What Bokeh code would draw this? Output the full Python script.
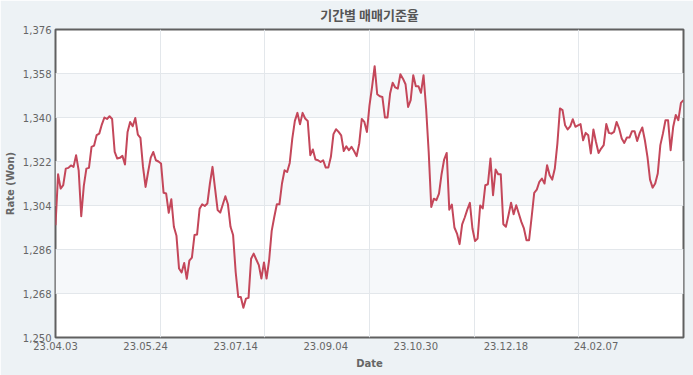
from bokeh.plotting import figure
from bokeh.models import Range1d, FixedTicker, NumeralTickFormatter, Grid
from bokeh.embed import file_html
from bokeh.resources import INLINE

rate = [
    1295.9, 1316.8, 1310.9, 1312.3, 1319.1, 1319.4, 1320.4, 1319.8, 1324.6, 1318.4,
    1299.6, 1312.0, 1319.1, 1319.4, 1328.0, 1328.5, 1332.8, 1333.4, 1337.1, 1340.0,
    1339.4, 1340.5, 1339.4, 1325.9, 1323.2, 1323.5, 1324.3, 1320.8, 1334.1, 1338.2,
    1336.4, 1339.8, 1333.0, 1331.7, 1319.8, 1311.6, 1317.8, 1323.6, 1325.9, 1322.5,
    1322.0, 1321.2, 1309.2, 1308.9, 1301.0, 1306.6, 1295.3, 1291.6, 1278.2, 1276.6,
    1280.5, 1274.0, 1281.4, 1282.7, 1291.9, 1292.1, 1302.7, 1304.5, 1303.8, 1304.8,
    1313.0, 1319.8, 1310.9, 1302.1, 1301.1, 1304.4, 1307.8, 1304.5, 1295.3, 1291.9,
    1276.8, 1266.6, 1266.6, 1262.2, 1265.9, 1266.2, 1282.2, 1284.3, 1281.9, 1279.6,
    1274.1, 1280.7, 1274.1, 1281.6, 1293.6, 1299.3, 1304.5, 1304.5, 1313.0, 1318.4,
    1317.7, 1321.4, 1331.4, 1338.6, 1341.9, 1337.2, 1341.9, 1339.6, 1338.6, 1324.6,
    1326.9, 1322.8, 1322.5, 1321.8, 1322.5, 1319.5, 1319.5, 1323.9, 1333.2, 1335.2,
    1334.1, 1332.7, 1326.3, 1328.2, 1326.6, 1328.0, 1326.3, 1324.2, 1329.3, 1339.4,
    1338.2, 1334.1, 1345.0, 1352.5, 1361.0, 1349.5, 1348.7, 1348.4, 1340.0, 1340.0,
    1349.8, 1354.2, 1352.3, 1351.8, 1357.7, 1355.9, 1353.6, 1344.3, 1347.1, 1357.3,
    1352.8, 1352.8, 1350.1, 1357.3, 1343.7, 1325.9, 1303.4, 1306.8, 1306.2, 1308.9,
    1316.8, 1322.8, 1325.5, 1302.3, 1304.4, 1295.0, 1292.5, 1288.2, 1296.3, 1299.1,
    1302.3, 1305.1, 1294.6, 1289.5, 1290.5, 1304.0, 1302.8, 1312.3, 1312.7, 1323.2,
    1308.2, 1318.7, 1316.8, 1316.8, 1296.3, 1295.3, 1300.0, 1305.1, 1300.4, 1304.1,
    1300.7, 1297.3, 1294.6, 1289.8, 1289.8, 1299.3, 1309.2, 1310.5, 1313.7, 1315.0,
    1313.0, 1320.5, 1316.4, 1314.6, 1319.1, 1329.3, 1343.7, 1343.0, 1336.8, 1335.1,
    1336.4, 1339.3, 1336.2, 1336.8, 1337.3, 1330.7, 1333.7, 1332.7, 1325.3, 1335.1,
    1330.0, 1325.5, 1327.3, 1328.7, 1337.3, 1333.7, 1333.4, 1334.1, 1338.2, 1335.5,
    1331.4, 1329.6, 1331.8, 1331.8, 1334.4, 1334.4, 1330.4, 1333.7, 1335.9, 1330.7,
    1323.9, 1314.6, 1311.3, 1313.0, 1317.1, 1328.7, 1333.4, 1338.9, 1338.9, 1326.6,
    1336.2, 1341.0, 1338.9, 1346.0, 1347.1,
]

tick_labels = ["23.04.03", "23.05.24", "23.07.14", "23.09.04", "23.10.30", "23.12.18", "24.02.07"]
label_step = 35
y_ticks = [1250, 1268, 1286, 1304, 1322, 1340, 1358, 1376]

title_text = "기간별 매매기준율"
x_title = "Date"
y_title = "Rate (Won)"

idx = list(range(len(rate)))
n_last = len(rate) - 1

p = figure(width=693, height=375, output_backend="svg", toolbar_location=None,
           x_range=Range1d(0, n_last), y_range=Range1d(y_ticks[0], y_ticks[-1]),
           min_border_left=55, min_border_right=10, min_border_top=29, min_border_bottom=38)

p.background_fill_color = "#ffffff"
p.border_fill_color = "#edf2f5"
p.outline_line_color = "#606060"
p.outline_line_width = 2

p.title.text = title_text
p.title.align = "center"
p.title.vertical_align = "top"
p.title.text_font = "Noto Sans CJK KR"
p.title.text_font_size = "13px"
p.title.text_font_style = "bold"
p.title.text_color = "#555555"
p.title.standoff = 7

tick_pos = [k * label_step for k in range(len(tick_labels))]
p.xaxis.ticker = FixedTicker(ticks=tick_pos)
p.xaxis.major_label_overrides = {t: s for t, s in zip(tick_pos, tick_labels)}
p.yaxis.ticker = FixedTicker(ticks=y_ticks)
p.yaxis.formatter = NumeralTickFormatter(format="0,0")

for ax in (p.xaxis, p.yaxis):
    ax.axis_line_color = None
    ax.major_tick_line_color = None
    ax.minor_tick_line_color = None
    ax.major_tick_out = 0
    ax.major_tick_in = 0
    ax.minor_tick_out = 0
    ax.minor_tick_in = 0
    ax.major_label_text_font = "DejaVu Sans"
    ax.major_label_text_font_size = "10px"
    ax.major_label_text_color = "#666666"
    ax.axis_label_text_font = "DejaVu Sans"
    ax.axis_label_text_font_size = "10px"
    ax.axis_label_text_font_style = "bold"
    ax.axis_label_text_color = "#666666"

p.xaxis.axis_label = x_title
p.yaxis.axis_label = y_title
p.xaxis.major_label_standoff = 4
p.xaxis.axis_label_standoff = 5
p.yaxis.major_label_standoff = 4
p.yaxis.axis_label_standoff = 4

p.xgrid.grid_line_color = None
p.ygrid.grid_line_color = "#e3e7eb"
p.ygrid.band_fill_color = "#f6f8fa"
p.ygrid.band_fill_alpha = 1.0

vgrid = Grid(dimension=0, ticker=FixedTicker(ticks=[n_last * k / 6 for k in range(1, 6)]),
             grid_line_color="#e3e7eb")
p.add_layout(vgrid)

p.line(idx, rate, line_color="#c4475a", line_width=2, line_join="round")

open("out.html", "w").write(file_html(p, INLINE))
